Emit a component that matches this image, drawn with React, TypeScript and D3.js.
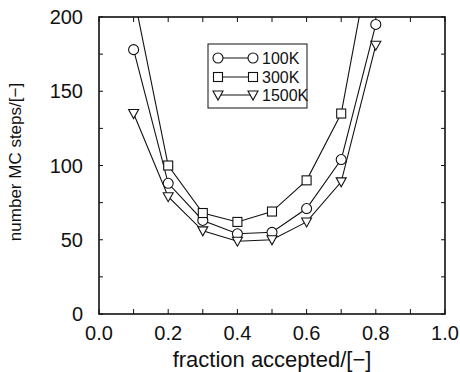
import React from "react";
import * as d3 from "d3";

const fractions = [0.1, 0.2, 0.3, 0.4, 0.5, 0.6, 0.7, 0.8];
const steps100K = [178, 88, 63, 54, 55, 71, 104, 195];
const steps300K = [215, 100, 68, 62, 69, 90, 135, 260];
const steps1500K = [135, 79, 56, 49, 50, 62, 89, 181];
const seriesNames = ["100K", "300K", "1500K"];
const xTickLabels = [0.0, 0.2, 0.4, 0.6, 0.8, 1.0];
const yTickLabels = [0, 50, 100, 150, 200];

const W = 460, H = 372;
const M = { left: 99, right: 445, top: 17, bottom: 314 };

function Marker({ kind, x, y }: { kind: string; x: number; y: number }) {
  if (kind === "circle") return <circle cx={x} cy={y} r={5} fill="#fff" stroke="#111" strokeWidth={1.1} />;
  if (kind === "square") return <rect x={x - 4.5} y={y - 4.5} width={9} height={9} fill="#fff" stroke="#111" strokeWidth={1.1} />;
  const p = d3.path();
  p.moveTo(x - 5, y - 4);
  p.lineTo(x + 5, y - 4);
  p.lineTo(x, y + 5);
  p.closePath();
  return <path d={p.toString()} fill="#fff" stroke="#111" strokeWidth={1.1} />;
}

export default function App() {
  const x = d3.scaleLinear().domain([0, 1]).range([M.left, M.right]);
  const y = d3.scaleLinear().domain([0, 200]).range([M.bottom, M.top]);
  const series = [
    { name: seriesNames[0], values: steps100K, kind: "circle" },
    { name: seriesNames[1], values: steps300K, kind: "square" },
    { name: seriesNames[2], values: steps1500K, kind: "triangle" },
  ];
  const line = d3.line<number>().x((_, i) => x(fractions[i])).y((v) => y(v));
  const xMinor = d3.range(0, 11).map((i) => i / 10);
  const yMinor = d3.range(0, 9).map((i) => i * 25);
  const font = "Liberation Sans, Arial, Helvetica, sans-serif";
  const legendRows = [58, 77, 95];

  return (
    <svg width={W} height={H} style={{ position: "absolute", left: 0, top: 0, background: "#fff" }} fontFamily={font}>
      <defs>
        <clipPath id="plot">
          <rect x={M.left} y={M.top} width={M.right - M.left} height={M.bottom - M.top} />
        </clipPath>
      </defs>
      {/* ticks */}
      {xMinor.map((t) => (
        <g key={"xt" + t} stroke="#111" strokeWidth={1}>
          <line x1={x(t)} x2={x(t)} y1={M.bottom} y2={M.bottom - 5} />
          <line x1={x(t)} x2={x(t)} y1={M.top} y2={M.top + 5} />
        </g>
      ))}
      {yMinor.map((t) => (
        <g key={"yt" + t} stroke="#111" strokeWidth={1}>
          <line x1={M.left} x2={M.left + 4} y1={y(t)} y2={y(t)} />
          <line x1={M.right} x2={M.right - 4} y1={y(t)} y2={y(t)} />
        </g>
      ))}
      <rect x={M.left} y={M.top} width={M.right - M.left} height={M.bottom - M.top} fill="none" stroke="#111" strokeWidth={1.6} />
      {/* tick labels */}
      {xTickLabels.map((t) => (
        <text key={"xl" + t} x={x(t)} y={340} textAnchor="middle" fontSize={20} fill="#111">
          {t.toFixed(1)}
        </text>
      ))}
      {yTickLabels.map((t) => (
        <text key={"yl" + t} x={83} y={y(t) + 7} textAnchor="end" fontSize={20} fill="#111">
          {t}
        </text>
      ))}
      {/* axis titles */}
      <text x={x(0.5)} y={367} textAnchor="middle" fontSize={22} fill="#111">
        fraction accepted/[−]
      </text>
      <text transform="translate(21,162) rotate(-90)" textAnchor="middle" fontSize={17} fill="#111">
        number MC steps/[−]
      </text>
      {/* data */}
      <g clipPath="url(#plot)">
        {series.map((s) => (
          <path key={s.name} d={line(s.values) || ""} fill="none" stroke="#111" strokeWidth={1.1} />
        ))}
        {series.map((s) =>
          s.values.map((v, i) => <Marker key={s.name + i} kind={s.kind} x={x(fractions[i])} y={y(v)} />)
        )}
      </g>
      {/* legend */}
      <rect x={208} y={44} width={99} height={64} fill="#fff" stroke="#111" strokeWidth={1} />
      {series.map((s, i) => (
        <g key={"lg" + s.name}>
          <line x1={218} x2={253} y1={legendRows[i]} y2={legendRows[i]} stroke="#111" strokeWidth={1} />
          <Marker kind={s.kind} x={218} y={legendRows[i]} />
          <Marker kind={s.kind} x={253} y={legendRows[i]} />
          <text x={262} y={legendRows[i] + 5.5} fontSize={16} fill="#111">
            {s.name}
          </text>
        </g>
      ))}
    </svg>
  );
}
